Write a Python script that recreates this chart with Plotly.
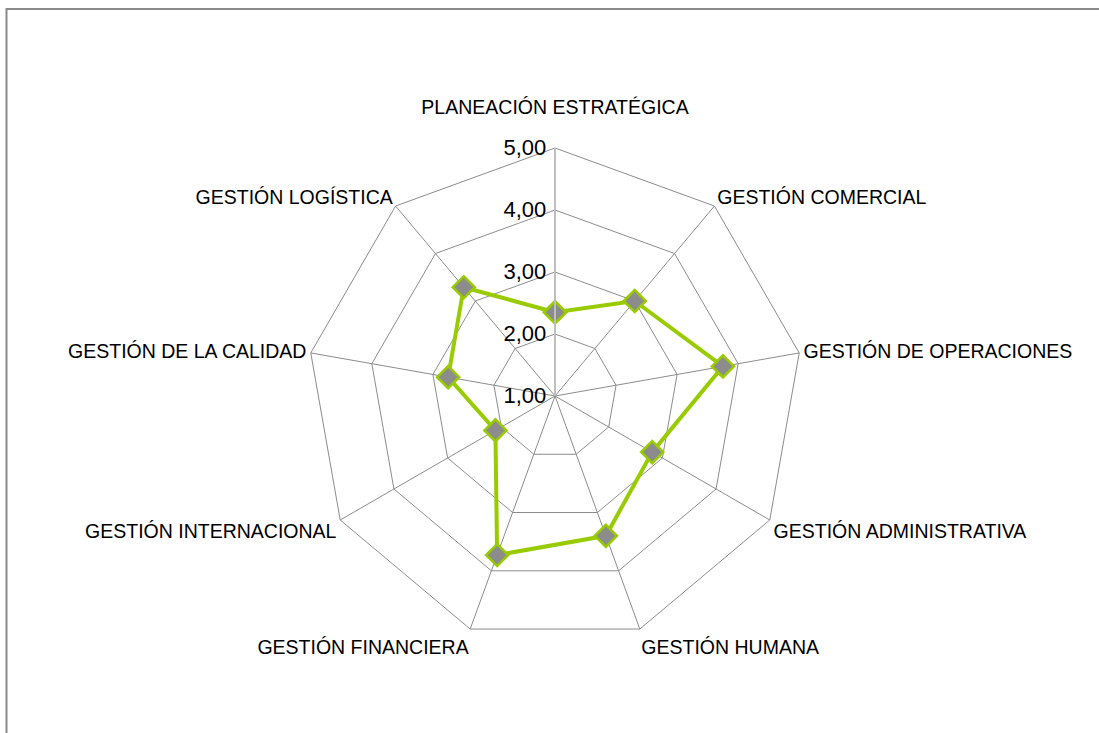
import plotly.graph_objects as go

categories = [
    "PLANEACIÓN ESTRATÉGICA<br> ",
    "GESTIÓN COMERCIAL",
    "GESTIÓN DE OPERACIONES",
    "GESTIÓN ADMINISTRATIVA",
    "GESTIÓN HUMANA",
    "GESTIÓN FINANCIERA",
    "GESTIÓN INTERNACIONAL",
    "GESTIÓN DE LA CALIDAD",
    "GESTIÓN LOGÍSTICA",
]
values = [2.35, 3.00, 3.75, 2.81, 3.40, 3.73, 2.11, 2.75, 3.29]
radial_ticks = [1, 2, 3, 4, 5]

W, H = 1099, 733
cx, cy, R = 555, 396, 248

fig = go.Figure()
fig.add_trace(go.Scatterpolar(
    r=values + values[:1],
    theta=categories + categories[:1],
    mode="lines+markers",
    line=dict(color="#99CC00", width=4),
    marker=dict(symbol="diamond", size=17, color="#8C8C8C",
                line=dict(color="#99CC00", width=2.5)),
    hoverinfo="r+theta",
    showlegend=False,
))

fig.update_layout(
    width=W, height=H,
    margin=dict(l=0, r=0, t=0, b=0),
    separators=",.",
    paper_bgcolor="white",
    plot_bgcolor="white",
    font=dict(family="Liberation Sans, Arial, sans-serif", size=19.5, color="#000000"),
    polar=dict(
        domain=dict(x=[(cx - R) / W, (cx + R) / W],
                    y=[(H - (cy + R)) / H, (H - (cy - R)) / H]),
        bgcolor="white",
        gridshape="linear",
        radialaxis=dict(
            range=[1, 5],
            tickmode="array",
            tickvals=radial_ticks,
            tickformat=".2f",
            ticksuffix="\u00a0\u2009",
            angle=90,
            tickangle=90,
            side="counterclockwise",
            showline=True,
            linecolor="#BFBFBF",
            linewidth=2,
            gridcolor="#8C8C8C",
            gridwidth=1,
            ticks="",
            tickfont=dict(size=22, color="#000000"),
        ),
        angularaxis=dict(
            rotation=90,
            direction="clockwise",
            showline=True,
            linecolor="#8C8C8C",
            linewidth=1,
            gridcolor="#8C8C8C",
            gridwidth=1,
            ticks="",
            tickfont=dict(size=19.5, color="#000000"),
        ),
    ),
    shapes=[dict(
        type="rect", xref="paper", yref="paper",
        x0=6.5 / W, x1=1.02, y0=-0.02, y1=1 - 9 / H,
        line=dict(color="#8A8A8A", width=2),
        fillcolor="rgba(0,0,0,0)",
        layer="below",
    )],
)

fig.write_html("out.html")
